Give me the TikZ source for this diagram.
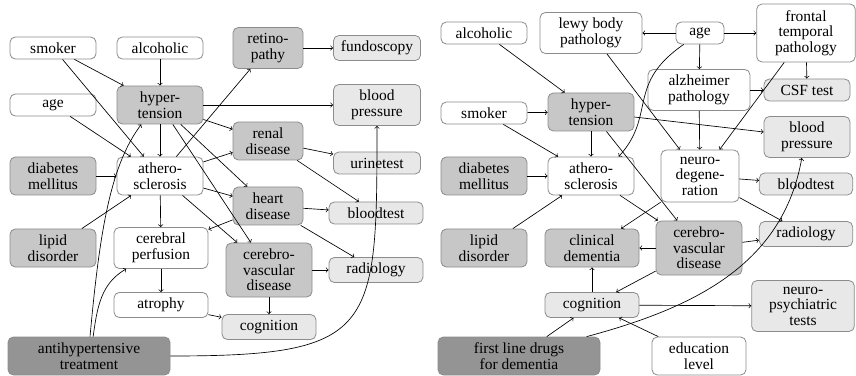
\documentclass[tikz,border=0pt]{standalone}
\usepackage{fontspec}
\setmainfont{Liberation Serif}

\begin{document}
\begin{tikzpicture}[x=0.75pt, y=0.75pt,
    box/.style={draw=black!45, line width=0.6pt, rounded corners=4pt,
                align=center, font=\fontsize{11.6}{11.6}\selectfont,
                inner sep=1pt, minimum width=64.5pt, minimum height=28.5pt},
    plain/.style={box, fill=white},
    dis/.style={box, fill=black!22},
    obs/.style={box, fill=black!9},
    drug/.style={box, fill=black!42},
    low/.style={minimum height=16.5pt},
    arr/.style={->, line width=0.5pt},
  ]
    \useasboundingbox (0,0) rectangle (856,375);

    % left graph: hypertension
    \node[plain, low] (lsmk) at (53,327) {smoker};
    \node[plain, low] (lalc) at (160,327) {alcoholic};
    \node[plain, low] (lage) at (53,270) {age};
    \node[dis] (lhyp) at (160,270) {hyper-\\tension};
    \node[dis] (ldia) at (53,199) {diabetes\\mellitus};
    \node[plain] (lath) at (160,199) {athero-\\sclerosis};
    \node[dis] (llip) at (53,127) {lipid\\disorder};
    \node[plain, minimum width=70.5pt, minimum height=30.75pt] (lper) at (161,127)
      {cerebral\\perfusion};
    \node[plain, minimum width=70.5pt, minimum height=18.75pt] (latr) at (161,70)
      {atrophy};
    \node[drug, minimum width=121.5pt] (lanti) at (89,19)
      {antihypertensive\\treatment};

    \node[dis, minimum width=52.5pt, minimum height=30.75pt] (lret) at (268,327)
      {retino-\\pathy};
    \node[dis, minimum width=52.5pt] (lren) at (268,234) {renal\\disease};
    \node[dis, minimum width=52.5pt] (lhrt) at (268,169) {heart\\disease};
    \node[dis, minimum height=40.5pt] (lcvd) at (269,105)
      {cerebro-\\vascular\\disease};
    \node[obs, minimum width=70.5pt, minimum height=18.75pt] (lcog) at (269,48)
      {cognition};

    % left graph: tests
    \node[obs, minimum width=65.25pt, minimum height=18.75pt] (lfun) at (377,327)
      {fundoscopy};
    \node[obs, minimum width=65.25pt, minimum height=30.75pt] (lbp) at (377,270)
      {blood\\pressure};
    \node[obs, low, minimum width=65.25pt] (luri) at (377,212) {urinetest};
    \node[obs, low, minimum width=70.5pt] (lblt) at (376,162) {bloodtest};
    \node[obs, minimum width=70.5pt, minimum height=18.75pt] (lrad) at (376,105)
      {radiology};

    \draw[arr] (lsmk) -- (lhyp);
    \draw[arr] (lsmk) -- (lath);
    \draw[arr] (lalc) -- (lhyp);
    \draw[arr] (lage) -- (lath);
    \draw[arr] (lhyp) -- (lath);
    \draw[arr] (ldia) -- (lath);
    \draw[arr] (llip) -- (lath);
    \draw[arr] (lath) -- (lper);
    \draw[arr] (lper) -- (latr);
    \draw[arr] (latr) -- (lcog);
    \draw[arr] (lcvd) -- (lcog);
    \draw[arr] (lhyp) -- (lbp);
    \draw[arr] (lhyp) -- (lren);
    \draw[arr] (lhyp) -- (lhrt);
    \draw[arr] (lhyp) -- (lcvd);
    \draw[arr] (lath) -- (lret);
    \draw[arr] (lath) -- (lren);
    \draw[arr] (lath) -- (lhrt);
    \draw[arr] (lath) -- (lcvd);
    \draw[arr] (lhrt) -- (lper);
    \draw[arr] (lret) -- (lfun);
    \draw[arr] (lren) -- (luri);
    \draw[arr] (lren) -- (lblt);
    \draw[arr] (lhrt) -- (lblt);
    \draw[arr] (lhrt) -- (lrad);
    \draw[arr] (lcvd) -- (lrad);
    \draw[arr] (lanti.87) .. controls +(10,110) and +(-30,-40) .. (lhyp.226);
    \draw[arr] (lanti.78) to[out=82, in=210] (lper.211);
    \draw[arr] (lanti.east) to[out=0, in=-90, looseness=1.7] (lbp.south);

    % right graph: dementia
    \node[plain, low] (ralc) at (484,342) {alcoholic};
    \node[plain, minimum width=76.5pt, minimum height=30.75pt] (rlew) at (591,342)
      {lewy body\\pathology};
    \node[plain, low, minimum width=36pt] (rage) at (700,342) {age};
    \node[plain, minimum width=74pt, minimum height=43.5pt] (rftp) at (806,342)
      {frontal\\temporal\\pathology};
    \node[plain, minimum width=76.5pt, minimum height=30.75pt] (ralz) at (699,285)
      {alzheimer\\pathology};
    \node[plain, low] (rsmk) at (484,262) {smoker};
    \node[dis] (rhyp) at (591,263) {hyper-\\tension};
    \node[dis] (rdia) at (484,199) {diabetes\\mellitus};
    \node[plain] (rath) at (591,199) {athero-\\sclerosis};
    \node[plain, minimum width=58.5pt, minimum height=39pt] (rneu) at (700,199)
      {neuro-\\degene-\\ration};
    \node[dis] (rlip) at (484,127) {lipid\\disorder};
    \node[dis, minimum width=70.5pt] (rcli) at (592,127) {clinical\\dementia};
    \node[dis, minimum height=40.5pt] (rcvd) at (699,127)
      {cerebro-\\vascular\\disease};
    \node[obs, minimum width=70.5pt, minimum height=18.75pt] (rcog) at (592,70)
      {cognition};
    \node[drug, minimum width=121.5pt] (rdrug) at (519,19)
      {first line drugs\\for dementia};
    \node[plain, minimum width=70.5pt] (redu) at (699,19) {education\\level};

    % right graph: tests
    \node[obs, low] (rcsf) at (807,285) {CSF test};
    \node[obs, minimum height=30.75pt] (rbp) at (807,238) {blood\\pressure};
    \node[obs, low, minimum width=70pt] (rblt) at (806,191) {bloodtest};
    \node[obs, minimum width=70pt, minimum height=18.75pt] (rrad) at (806,141)
      {radiology};
    \node[obs, minimum width=77pt, minimum height=38.25pt] (rnps) at (803,69)
      {neuro-\\psychiatric\\tests};

    \draw[arr] (ralc) -- (rhyp);
    \draw[arr] (rsmk) -- (rhyp);
    \draw[arr] (rsmk) -- (rath);
    \draw[arr] (rhyp) -- (rath);
    \draw[arr] (rdia) -- (rath);
    \draw[arr] (rlip) -- (rath);
    \draw[arr] (rhyp) -- (rbp);
    \draw[arr] (rhyp) -- (rcvd);
    \draw[arr] (rath) -- (rcvd);
    \draw[arr] (rage) -- (rlew);
    \draw[arr] (rage) -- (rftp);
    \draw[arr] (rage) -- (ralz);
    \draw[arr] (rage.215) .. controls +(-58,-40) and +(38,42) .. (rath.35);
    \draw[arr] (rlew) -- (rneu);
    \draw[arr] (ralz) -- (rneu);
    \draw[arr] (ralz) -- (rcsf);
    \draw[arr] (rftp) -- (rcsf);
    \draw[arr] (rftp) -- (rneu);
    \draw[arr] (rneu) -- (rblt);
    \draw[arr] (rneu) -- (rrad);
    \draw[arr] (rneu) -- (rcli);
    \draw[arr] (rcvd) -- (rcli);
    \draw[arr] (rcvd) -- (rrad);
    \draw[arr] (rcvd) -- (rcog);
    \draw[arr] (rcog) -- (rcli);
    \draw[arr] (rcog) -- (rnps);
    \draw[arr] (rdrug) -- (rcog);
    \draw[arr] (redu) -- (rcog);
    \draw[arr] (rdrug.16) to[out=15, in=-100] (rbp.256);
  \end{tikzpicture}
\end{document}
